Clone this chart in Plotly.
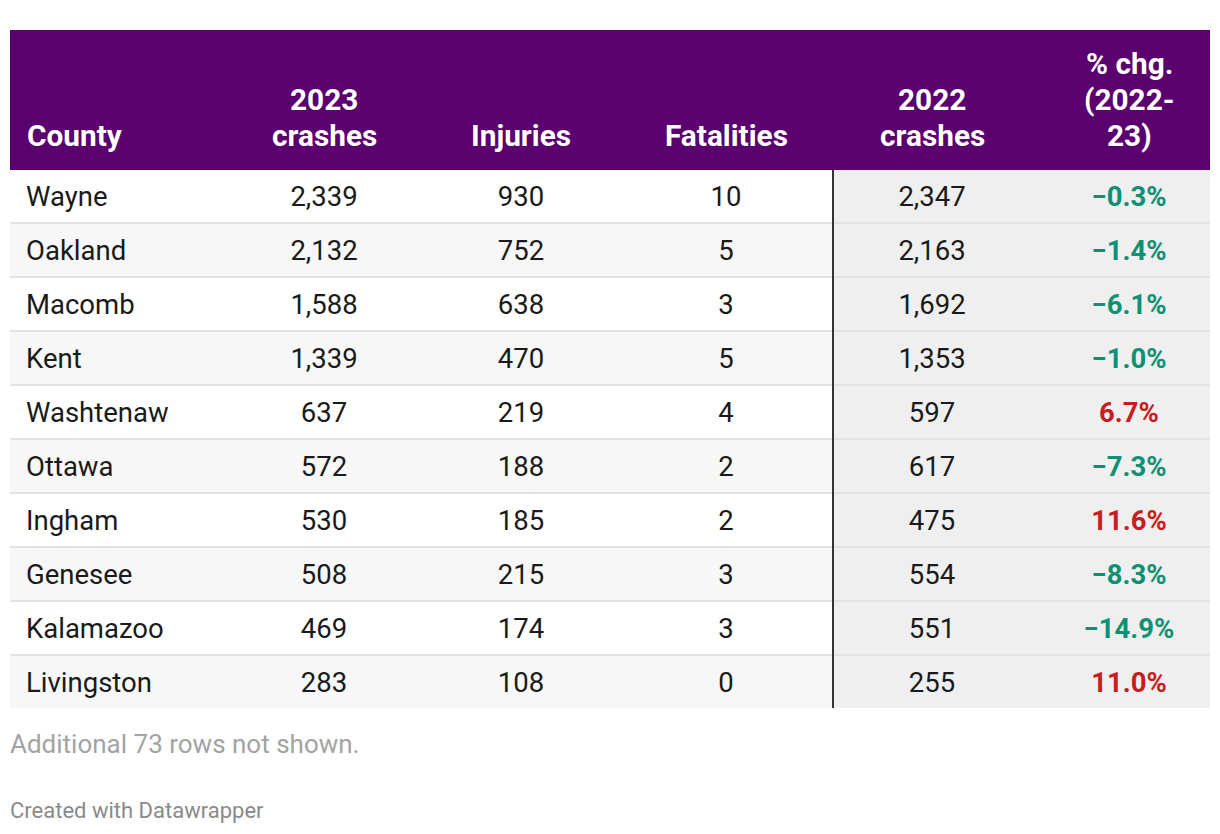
import plotly.graph_objects as go

# ---------------- data ----------------
counties = ["Wayne", "Oakland", "Macomb", "Kent", "Washtenaw", "Ottawa",
            "Ingham", "Genesee", "Kalamazoo", "Livingston"]
crashes_2023 = [2339, 2132, 1588, 1339, 637, 572, 530, 508, 469, 283]
injuries = [930, 752, 638, 470, 219, 188, 185, 215, 174, 108]
fatalities = [10, 5, 3, 5, 4, 2, 2, 3, 3, 0]
crashes_2022 = [2347, 2163, 1692, 1353, 597, 617, 475, 554, 551, 255]
pct_change = [-0.3, -1.4, -6.1, -1.0, 6.7, -7.3, 11.6, -8.3, -14.9, 11.0]
headers = [["County"], ["2023", "crashes"], ["Injuries"], ["Fatalities"],
           ["2022", "crashes"], ["% chg.", "(2022-", "23)"]]
note_text = "Additional 73 rows not shown."
credit_text = "Created with Datawrapper"

# ---------------- layout constants (pixels) ----------------
W, H = 1220, 834
LEFT, RIGHT = 10, 1210
HEAD_TOP, HEAD_BOT = 30, 170
ROW_H = 54
TABLE_BOT = 708
COL_X = [27, 324, 521, 726, 932, 1129]
DIVIDER_X = 833
FONT = "Roboto"
PURPLE = "#5a006f"
GREEN = "#0e9173"
RED = "#c71e1d"
TEXT = "#1a1a1a"
BODY_SIZE = 27.5
HEAD_SIZE = 29.8

n = len(counties)
row_top = [HEAD_BOT + ROW_H * i for i in range(n)]
row_mid = [t + (ROW_H - 2) / 2 + 3.5 for t in row_top]


def fmt_pct(v):
    s = f"{abs(v):.1f}%"
    return ("\u2212" + s) if v < 0 else s


fig = go.Figure()

shapes = []
# header band
shapes.append(dict(type="rect", x0=LEFT, x1=RIGHT, y0=HEAD_TOP, y1=HEAD_BOT,
                   fillcolor=PURPLE, line_width=0, layer="below"))
# row stripes
for i in range(n):
    y0 = row_top[i]
    y1 = min(row_top[i] + ROW_H, TABLE_BOT)
    if i % 2 == 1:
        shapes.append(dict(type="rect", x0=LEFT, x1=DIVIDER_X, y0=y0, y1=y1,
                           fillcolor="#f7f7f7", line_width=0, layer="below"))
# highlighted columns background
shapes.append(dict(type="rect", x0=DIVIDER_X, x1=RIGHT, y0=HEAD_BOT, y1=TABLE_BOT,
                   fillcolor="#efefef", line_width=0, layer="below"))
# row separators
for i in range(n - 1):
    yb = row_top[i] + ROW_H - 2
    shapes.append(dict(type="rect", x0=LEFT, x1=RIGHT, y0=yb, y1=yb + 2,
                       fillcolor="#e3e3e3", line_width=0, layer="below"))
# vertical divider
shapes.append(dict(type="rect", x0=DIVIDER_X - 1, x1=DIVIDER_X + 1,
                   y0=HEAD_BOT, y1=TABLE_BOT, fillcolor="#333333",
                   line_width=0, layer="above"))

# body text
fig.add_trace(go.Scatter(
    x=[COL_X[0] - 1] * n, y=row_mid, mode="text", text=counties,
    textposition="middle right", textfont=dict(family=FONT, size=BODY_SIZE, color=TEXT),
    hoverinfo="skip", showlegend=False, cliponaxis=False))
for ci, col in enumerate([crashes_2023, injuries, fatalities, crashes_2022], start=1):
    fig.add_trace(go.Scatter(
        x=[COL_X[ci]] * n, y=row_mid, mode="text", text=[f"{v:,}" for v in col],
        textposition="middle center", textfont=dict(family=FONT, size=BODY_SIZE, color=TEXT),
        hoverinfo="skip", showlegend=False, cliponaxis=False))
fig.add_trace(go.Scatter(
    x=[COL_X[5]] * n, y=row_mid, mode="text", text=[fmt_pct(v) for v in pct_change],
    textposition="middle center",
    textfont=dict(family=FONT, size=BODY_SIZE, weight="bold",
                  color=[GREEN if v < 0 else RED for v in pct_change]),
    hoverinfo="skip", showlegend=False, cliponaxis=False))

# header text
annotations = []
LINE_GAP = 36
last_line_mid = 135
for ci, lines in enumerate(headers):
    k = len(lines)
    for li, line in enumerate(lines):
        y = last_line_mid - (k - 1 - li) * LINE_GAP
        annotations.append(dict(
            x=COL_X[ci] - 2 if ci == 0 else COL_X[ci], y=y, xref="x", yref="y",
            text=line, showarrow=False,
            xanchor="left" if ci == 0 else "center", yanchor="middle",
            font=dict(family=FONT, size=HEAD_SIZE, color="white", weight="bold")))

annotations.append(dict(x=LEFT - 2, y=744, xref="x", yref="y", text=note_text,
                        showarrow=False, xanchor="left", yanchor="middle",
                        font=dict(family=FONT, size=26, color="#a3a3a3")))
annotations.append(dict(x=LEFT - 2, y=810, xref="x", yref="y", text=credit_text,
                        showarrow=False, xanchor="left", yanchor="middle",
                        font=dict(family=FONT, size=22, color="#8a8a8a")))

fig.update_layout(
    width=W, height=H, margin=dict(l=0, r=0, t=0, b=0),
    paper_bgcolor="white", plot_bgcolor="white",
    xaxis=dict(range=[0, W], visible=False, fixedrange=True),
    yaxis=dict(range=[H, 0], visible=False, fixedrange=True),
    shapes=shapes, annotations=annotations, showlegend=False,
)

fig.write_html("out.html", config={"displayModeBar": False},
               post_script="document.body.style.margin='0';")
